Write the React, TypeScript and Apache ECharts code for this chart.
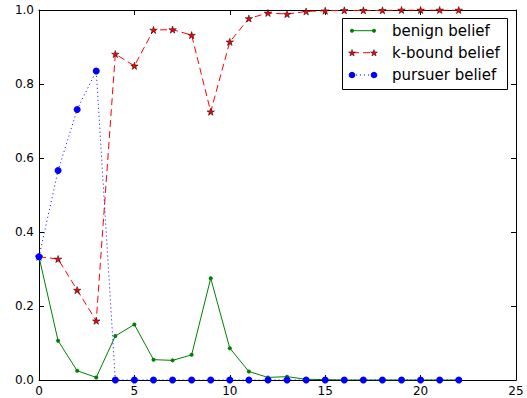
import React, { useEffect, useRef } from "react";
import * as echarts from "echarts";

const steps = [0, 1, 2, 3, 4, 5, 6, 7, 8, 9, 10, 11, 12, 13, 14, 15, 16, 17, 18, 19, 20, 21, 22];
const benign = [0.333, 0.106, 0.025, 0.007, 0.119, 0.15, 0.055, 0.053, 0.068, 0.275, 0.086, 0.023, 0.007, 0.009, 0.002, 0.001, 0, 0, 0, 0, 0, 0, 0];
const kbound = [0.333, 0.327, 0.243, 0.16, 0.881, 0.849, 0.946, 0.947, 0.932, 0.725, 0.914, 0.977, 0.992, 0.989, 0.996, 0.998, 0.999, 0.999, 0.999, 1.0, 1.0, 1.0, 1.0];
const pursuer = [0.333, 0.566, 0.731, 0.835, 0, 0, 0, 0, 0, 0, 0, 0, 0, 0, 0, 0, 0, 0, 0, 0, 0, 0, 0];
const seriesNames = ["benign belief", "k-bound belief", "pursuer belief"];

const STAR = "path://M0,-1L0.2245,-0.309L0.951,-0.309L0.363,0.118L0.588,0.809L0,0.382L-0.588,0.809L-0.363,0.118L-0.951,-0.309L-0.2245,-0.309Z";

function starPoints(cx: number, cy: number, r: number) {
  const pts: number[][] = [];
  const inner = r * 0.382;
  for (let i = 0; i < 10; i++) {
    const a = -Math.PI / 2 + (i * Math.PI) / 5;
    const rr = i % 2 === 0 ? r : inner;
    pts.push([cx + rr * Math.cos(a), cy + rr * Math.sin(a)]);
  }
  return pts;
}

export default function App() {
  const ref = useRef<HTMLDivElement>(null);
  useEffect(() => {
    if (!ref.current) return;
    const chart = echarts.init(ref.current, undefined, { renderer: "svg" });
    const font = "DejaVu Sans";
    const pair = (ys: number[]) => steps.map((x, i) => [x, ys[i]]);
    const axisCommon = {
      axisLine: { show: true, onZero: false, lineStyle: { color: "#000", width: 1 } },
      axisTick: { show: true, inside: true, length: 5, lineStyle: { color: "#000" } },
      splitLine: { show: false },
    };
    const rows = [30.7, 52.7, 75];
    const lx0 = 352, lx1 = 374;
    const legendChildren: any[] = [
      {
        type: "rect",
        shape: { x: 342.5, y: 18.5, width: 165, height: 71 },
        style: { fill: "#fff", stroke: "#000", lineWidth: 1 },
      },
      { type: "line", shape: { x1: lx0, y1: rows[0], x2: lx1, y2: rows[0] }, style: { stroke: "#008000", lineWidth: 1 } },
      { type: "circle", shape: { cx: lx0, cy: rows[0], r: 2 }, style: { fill: "#008000" } },
      { type: "circle", shape: { cx: lx1, cy: rows[0], r: 2 }, style: { fill: "#008000" } },
      { type: "line", shape: { x1: lx0, y1: rows[1], x2: lx1, y2: rows[1] }, style: { stroke: "#ff0000", lineWidth: 1, lineDash: [7, 4] } },
      { type: "polygon", shape: { points: starPoints(lx0, rows[1] + 0.4, 3.6) }, style: { fill: "#ff0000", stroke: "#000", lineWidth: 0.5 } },
      { type: "polygon", shape: { points: starPoints(lx1, rows[1] + 0.4, 3.6) }, style: { fill: "#ff0000", stroke: "#000", lineWidth: 0.5 } },
      { type: "line", shape: { x1: lx0, y1: rows[2], x2: lx1, y2: rows[2] }, style: { stroke: "#0000ff", lineWidth: 1, lineDash: [1, 3] } },
      { type: "circle", shape: { cx: lx0, cy: rows[2], r: 3.3 }, style: { fill: "#0000ff" } },
      { type: "circle", shape: { cx: lx1, cy: rows[2], r: 3.3 }, style: { fill: "#0000ff" } },
    ];
    seriesNames.forEach((n, i) => {
      legendChildren.push({
        type: "text",
        x: 392,
        y: rows[i],
        style: { text: n, font: `15px '${font}'`, fill: "#000", verticalAlign: "middle", align: "left" },
      });
    });
    chart.setOption({
      animation: false,
      backgroundColor: "#fff",
      textStyle: { fontFamily: font },
      grid: { left: 39, top: 10, right: 11, bottom: 18, containLabel: false },
      xAxis: [
        {
          type: "value", min: 0, max: 25, interval: 5, position: "bottom",
          ...axisCommon,
          axisLabel: { show: true, color: "#000", fontSize: 12, fontFamily: font, margin: 5 },
        },
        {
          type: "value", min: 0, max: 25, interval: 5, position: "top",
          ...axisCommon,
          axisLabel: { show: false },
        },
      ],
      yAxis: [
        {
          type: "value", min: 0, max: 1, interval: 0.2, position: "left",
          ...axisCommon,
          axisLabel: { show: true, color: "#000", fontSize: 12, fontFamily: font, margin: 5, formatter: (v: number) => v.toFixed(1) },
        },
        {
          type: "value", min: 0, max: 1, interval: 0.2, position: "right",
          ...axisCommon,
          axisLabel: { show: false },
        },
      ],
      series: [
        {
          name: seriesNames[0], type: "line", data: pair(benign),
          symbol: "circle", symbolSize: 4, showAllSymbol: true,
          lineStyle: { color: "#008000", width: 1 },
          itemStyle: { color: "#008000" },
          clip: true,
        },
        {
          name: seriesNames[1], type: "line", data: pair(kbound),
          symbol: STAR, symbolSize: 7.5, symbolKeepAspect: true, showAllSymbol: true,
          lineStyle: { color: "#ff0000", width: 1, type: [7, 4] },
          itemStyle: { color: "#ff0000", borderColor: "#000", borderWidth: 0.5 },
          clip: true,
        },
        {
          name: seriesNames[2], type: "line", data: pair(pursuer),
          symbol: "circle", symbolSize: 7, showAllSymbol: true,
          lineStyle: { color: "#0000ff", width: 1, type: [1, 3] },
          itemStyle: { color: "#0000ff" },
          clip: true,
        },
      ],
      graphic: [{ type: "group", z: 100, children: legendChildren }],
    });
    return () => chart.dispose();
  }, []);
  return <div ref={ref} style={{ position: "fixed", left: 0, top: 0, width: 527, height: 398 }} />;
}
